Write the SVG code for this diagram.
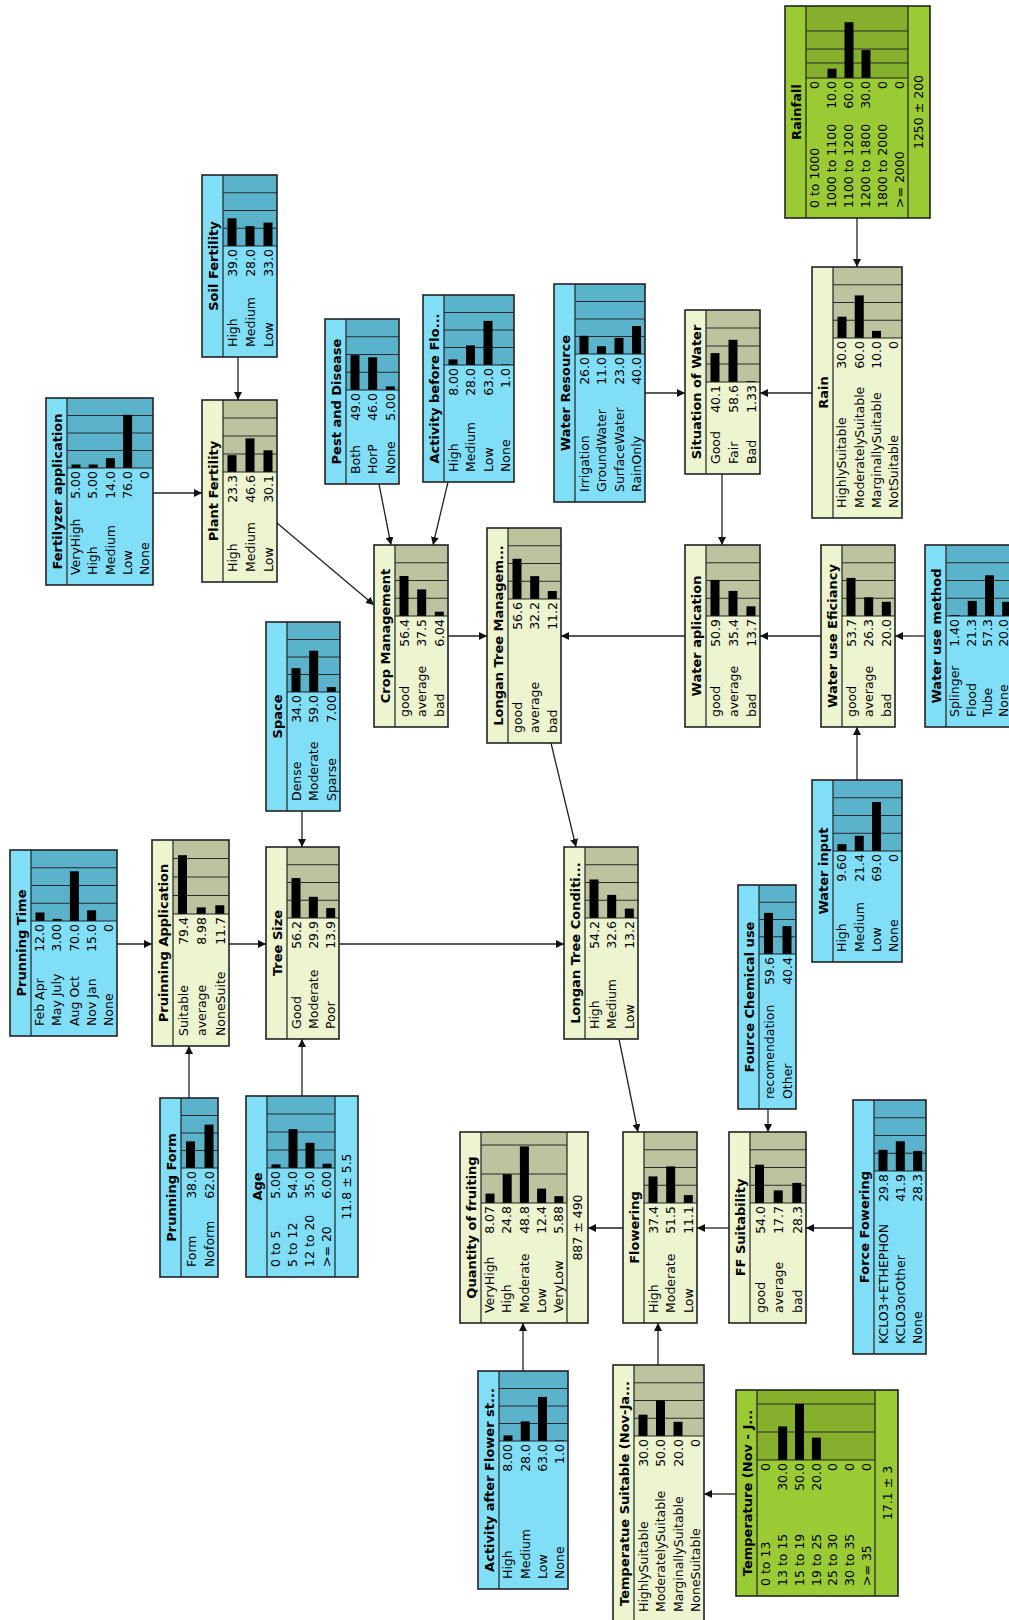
<svg xmlns="http://www.w3.org/2000/svg" width="1009" height="1620" viewBox="0 0 1009 1620">
<defs>
<style>
.bg-b{fill:#80def6}.bb-b{fill:#5ab3cb}
.bg-p{fill:#ecf4d0}.bb-p{fill:#bdc29f}
.bg-g{fill:#9acb34}.bb-g{fill:#86b02c}
.fr{fill:none;stroke:#222;stroke-width:1.6}
.sep{fill:none;stroke:#222;stroke-width:1.2}
.gl{fill:none;stroke:#2a2a2a;stroke-width:1}
.bar{fill:#000}
text{font-family:"DejaVu Sans",Verdana,sans-serif;fill:#000}
.t{font-size:13px;font-weight:bold;text-anchor:middle}
.s{font-size:12.5px}
.v{font-size:12.5px;text-anchor:end}
.m{font-size:12.5px;text-anchor:middle}
.cn{fill:none;stroke:#222;stroke-width:1.3;marker-end:url(#ah)}
</style>
<marker id="ah" viewBox="0 0 8 8" refX="8" refY="4" markerWidth="8" markerHeight="8" markerUnits="userSpaceOnUse" orient="auto"><path d="M0 0L8 4L0 8z" fill="#111"/></marker>
</defs>
<rect width="1009" height="1620" fill="#fff"/>

<g id="connectors">
<path class="cn" d="M857 218V267"/>
<path class="cn" d="M812 393H760"/>
<path class="cn" d="M645 393H685"/>
<path class="cn" d="M722 474V545"/>
<path class="cn" d="M821 636H760"/>
<path class="cn" d="M925 636H895"/>
<path class="cn" d="M857 780V727"/>
<path class="cn" d="M685 636H561"/>
<path class="cn" d="M448 636H487"/>
<path class="cn" d="M379 484L391 545"/>
<path class="cn" d="M448 482L433 545"/>
<path class="cn" d="M277 523L374 605"/>
<path class="cn" d="M153 493H202"/>
<path class="cn" d="M238 357V400"/>
<path class="cn" d="M302 811V847"/>
<path class="cn" d="M551 743L576 847"/>
<path class="cn" d="M339 944H564"/>
<path class="cn" d="M117 944H152"/>
<path class="cn" d="M229 944H266"/>
<path class="cn" d="M189 1098V1046"/>
<path class="cn" d="M302 1096V1039"/>
<path class="cn" d="M619 1039L638 1132"/>
<path class="cn" d="M623 1228H588"/>
<path class="cn" d="M729 1228H697"/>
<path class="cn" d="M853 1228H806"/>
<path class="cn" d="M768 1109V1132"/>
<path class="cn" d="M523 1371V1323"/>
<path class="cn" d="M658 1365V1323"/>
<path class="cn" d="M736 1494H704"/>
</g>

<g id="rainfall" transform="translate(785,218) rotate(-90)">
<rect class="bg-g" width="212" height="145"/>
<rect class="bb-g" x="140" y="21" width="72" height="102"/>
<path class="gl" d="M155 21V123M169 21V123M187 21V123"/>
<rect class="bar" x="140" y="42.5" width="9.3" height="9"/><rect class="bar" x="140" y="59.5" width="55.8" height="9"/><rect class="bar" x="140" y="76.5" width="27.9" height="9"/>
<rect class="fr" width="212" height="145"/>
<path class="sep" d="M0 21H212M140 21V123M0 123H212"/>
<text class="t" x="106" y="16">Rainfall</text>
<text class="s" x="10" y="34">0 to 1000</text><text class="v" x="137" y="34">0</text>
<text class="s" x="10" y="51">1000 to 1100</text><text class="v" x="137" y="51">10.0</text>
<text class="s" x="10" y="68">1100 to 1200</text><text class="v" x="137" y="68">60.0</text>
<text class="s" x="10" y="85">1200 to 1800</text><text class="v" x="137" y="85">30.0</text>
<text class="s" x="10" y="102">1800 to 2000</text><text class="v" x="137" y="102">0</text>
<text class="s" x="10" y="119">&gt;= 2000</text><text class="v" x="137" y="119">0</text>
<text class="m" x="106" y="138">1250 ± 200</text>
</g>

<g id="rain" transform="translate(812,518) rotate(-90)">
<rect class="bg-p" width="251" height="90"/>
<rect class="bb-p" x="180" y="21" width="71" height="69"/>
<path class="gl" d="M197.75 21V90M215.5 21V90M233.25 21V90"/>
<rect class="bar" x="180" y="25.5" width="21.3" height="9"/><rect class="bar" x="180" y="42.75" width="42.6" height="9"/><rect class="bar" x="180" y="60" width="7.1" height="9"/>
<rect class="fr" width="251" height="90"/>
<path class="sep" d="M0 21H251M180 21V90"/>
<text class="t" x="125.5" y="16">Rain</text>
<text class="s" x="10" y="34.25">HighlySuitable</text><text class="v" x="177" y="34.25">30.0</text>
<text class="s" x="10" y="51.5">ModeratelySuitable</text><text class="v" x="177" y="51.5">60.0</text>
<text class="s" x="10" y="68.75">MarginallySuitable</text><text class="v" x="177" y="68.75">10.0</text>
<text class="s" x="10" y="86">NotSuitable</text><text class="v" x="177" y="86">0</text>
</g>

<g id="situation-of-water" transform="translate(685,474) rotate(-90)">
<rect class="bg-p" width="164" height="75"/>
<rect class="bb-p" x="92" y="21" width="72" height="54"/>
<path class="gl" d="M110 21V75M128 21V75M146 21V75"/>
<rect class="bar" x="92" y="25.5" width="28.9" height="9"/><rect class="bar" x="92" y="43.5" width="42.2" height="9"/><rect class="bar" x="92" y="61.5" width="1" height="9"/>
<rect class="fr" width="164" height="75"/>
<path class="sep" d="M0 21H164M92 21V75"/>
<text class="t" x="82" y="16">Situation of Water</text>
<text class="s" x="10" y="35">Good</text><text class="v" x="89" y="35">40.1</text>
<text class="s" x="10" y="53">Fair</text><text class="v" x="89" y="53">58.6</text>
<text class="s" x="10" y="71">Bad</text><text class="v" x="89" y="71">1.33</text>
</g>

<g id="water-resource" transform="translate(554,502) rotate(-90)">
<rect class="bg-b" width="218" height="91"/>
<rect class="bb-b" x="148" y="21" width="70" height="70"/>
<path class="gl" d="M165.5 21V91M183 21V91M200.5 21V91"/>
<rect class="bar" x="148" y="25.5" width="18.2" height="9"/><rect class="bar" x="148" y="43" width="7.7" height="9"/><rect class="bar" x="148" y="60.5" width="16.1" height="9"/><rect class="bar" x="148" y="78" width="28" height="9"/>
<rect class="fr" width="218" height="91"/>
<path class="sep" d="M0 21H218M148 21V91"/>
<text class="t" x="109" y="16">Water Resource</text>
<text class="s" x="10" y="34.5">Irrigation</text><text class="v" x="145" y="34.5">26.0</text>
<text class="s" x="10" y="52">GroundWater</text><text class="v" x="145" y="52">11.0</text>
<text class="s" x="10" y="69.5">SurfaceWater</text><text class="v" x="145" y="69.5">23.0</text>
<text class="s" x="10" y="87">RainOnly</text><text class="v" x="145" y="87">40.0</text>
</g>

<g id="activity-before" transform="translate(423,482) rotate(-90)">
<rect class="bg-b" width="187" height="91"/>
<rect class="bb-b" x="117" y="21" width="70" height="70"/>
<path class="gl" d="M134.5 21V91M152 21V91M169.5 21V91"/>
<rect class="bar" x="117" y="25.5" width="5.6" height="9"/><rect class="bar" x="117" y="43" width="19.6" height="9"/><rect class="bar" x="117" y="60.5" width="44.1" height="9"/><rect class="bar" x="117" y="78" width="0.7" height="9"/>
<rect class="fr" width="187" height="91"/>
<path class="sep" d="M0 21H187M117 21V91"/>
<text class="t" x="93.5" y="16">Activity before Flo...</text>
<text class="s" x="10" y="34.5">High</text><text class="v" x="114" y="34.5">8.00</text>
<text class="s" x="10" y="52">Medium</text><text class="v" x="114" y="52">28.0</text>
<text class="s" x="10" y="69.5">Low</text><text class="v" x="114" y="69.5">63.0</text>
<text class="s" x="10" y="87">None</text><text class="v" x="114" y="87">1.0</text>
</g>

<g id="pest-and-disease" transform="translate(325,484) rotate(-90)">
<rect class="bg-b" width="165" height="74"/>
<rect class="bb-b" x="94" y="21" width="71" height="53"/>
<path class="gl" d="M111.75 21V74M129.5 21V74M147.25 21V74"/>
<rect class="bar" x="94" y="25.5" width="34.8" height="9"/><rect class="bar" x="94" y="43.2" width="32.7" height="9"/><rect class="bar" x="94" y="60.8" width="3.6" height="9"/>
<rect class="fr" width="165" height="74"/>
<path class="sep" d="M0 21H165M94 21V74"/>
<text class="t" x="82.5" y="16">Pest and Disease</text>
<text class="s" x="10" y="34.7">Both</text><text class="v" x="91" y="34.7">49.0</text>
<text class="s" x="10" y="52.4">HorP</text><text class="v" x="91" y="52.4">46.0</text>
<text class="s" x="10" y="70">None</text><text class="v" x="91" y="70">5.00</text>
</g>

<g id="soil-fertility" transform="translate(202,357) rotate(-90)">
<rect class="bg-b" width="182" height="75"/>
<rect class="bb-b" x="111" y="21" width="71" height="54"/>
<path class="gl" d="M128.75 21V75M146.5 21V75M164.25 21V75"/>
<rect class="bar" x="111" y="25.5" width="27.7" height="9"/><rect class="bar" x="111" y="43.5" width="19.9" height="9"/><rect class="bar" x="111" y="61.5" width="23.4" height="9"/>
<rect class="fr" width="182" height="75"/>
<path class="sep" d="M0 21H182M111 21V75"/>
<text class="t" x="91" y="16">Soil Fertility</text>
<text class="s" x="10" y="35">High</text><text class="v" x="108" y="35">39.0</text>
<text class="s" x="10" y="53">Medium</text><text class="v" x="108" y="53">28.0</text>
<text class="s" x="10" y="71">Low</text><text class="v" x="108" y="71">33.0</text>
</g>

<g id="fertilyzer-application" transform="translate(46,585) rotate(-90)">
<rect class="bg-b" width="187" height="107"/>
<rect class="bb-b" x="117" y="21" width="70" height="86"/>
<path class="gl" d="M134.5 21V107M152 21V107M169.5 21V107"/>
<rect class="bar" x="117" y="25.5" width="3.5" height="9"/><rect class="bar" x="117" y="42.7" width="3.5" height="9"/><rect class="bar" x="117" y="59.9" width="9.8" height="9"/><rect class="bar" x="117" y="77.1" width="53.2" height="9"/>
<rect class="fr" width="187" height="107"/>
<path class="sep" d="M0 21H187M117 21V107"/>
<text class="t" x="93.5" y="16">Fertilyzer application</text>
<text class="s" x="10" y="34.2">VeryHigh</text><text class="v" x="114" y="34.2">5.00</text>
<text class="s" x="10" y="51.4">High</text><text class="v" x="114" y="51.4">5.00</text>
<text class="s" x="10" y="68.6">Medium</text><text class="v" x="114" y="68.6">14.0</text>
<text class="s" x="10" y="85.8">Low</text><text class="v" x="114" y="85.8">76.0</text>
<text class="s" x="10" y="103">None</text><text class="v" x="114" y="103">0</text>
</g>

<g id="plant-fertility" transform="translate(202,582) rotate(-90)">
<rect class="bg-p" width="182" height="75"/>
<rect class="bb-p" x="110" y="21" width="72" height="54"/>
<path class="gl" d="M128 21V75M146 21V75M164 21V75"/>
<rect class="bar" x="110" y="25.5" width="16.8" height="9"/><rect class="bar" x="110" y="43.5" width="33.6" height="9"/><rect class="bar" x="110" y="61.5" width="21.7" height="9"/>
<rect class="fr" width="182" height="75"/>
<path class="sep" d="M0 21H182M110 21V75"/>
<text class="t" x="91" y="16">Plant Fertility</text>
<text class="s" x="10" y="35">High</text><text class="v" x="107" y="35">23.3</text>
<text class="s" x="10" y="53">Medium</text><text class="v" x="107" y="53">46.6</text>
<text class="s" x="10" y="71">Low</text><text class="v" x="107" y="71">30.1</text>
</g>

<g id="space" transform="translate(266,811) rotate(-90)">
<rect class="bg-b" width="189" height="74"/>
<rect class="bb-b" x="119" y="21" width="70" height="53"/>
<path class="gl" d="M136.5 21V74M154 21V74M171.5 21V74"/>
<rect class="bar" x="119" y="25.5" width="23.8" height="9"/><rect class="bar" x="119" y="43.2" width="41.3" height="9"/><rect class="bar" x="119" y="60.8" width="4.9" height="9"/>
<rect class="fr" width="189" height="74"/>
<path class="sep" d="M0 21H189M119 21V74"/>
<text class="t" x="94.5" y="16">Space</text>
<text class="s" x="10" y="34.7">Dense</text><text class="v" x="116" y="34.7">34.0</text>
<text class="s" x="10" y="52.4">Moderate</text><text class="v" x="116" y="52.4">59.0</text>
<text class="s" x="10" y="70">Sparse</text><text class="v" x="116" y="70">7.00</text>
</g>

<g id="crop-management" transform="translate(374,727) rotate(-90)">
<rect class="bg-p" width="182" height="74"/>
<rect class="bb-p" x="111" y="21" width="71" height="53"/>
<path class="gl" d="M128.75 21V74M146.5 21V74M164.25 21V74"/>
<rect class="bar" x="111" y="25.5" width="40" height="9"/><rect class="bar" x="111" y="43.2" width="26.6" height="9"/><rect class="bar" x="111" y="60.8" width="4.3" height="9"/>
<rect class="fr" width="182" height="74"/>
<path class="sep" d="M0 21H182M111 21V74"/>
<text class="t" x="91" y="16">Crop Management</text>
<text class="s" x="10" y="34.7">good</text><text class="v" x="108" y="34.7">56.4</text>
<text class="s" x="10" y="52.4">average</text><text class="v" x="108" y="52.4">37.5</text>
<text class="s" x="10" y="70">bad</text><text class="v" x="108" y="70">6.04</text>
</g>

<g id="longan-tree-management" transform="translate(487,743) rotate(-90)">
<rect class="bg-p" width="215" height="74"/>
<rect class="bb-p" x="144" y="21" width="71" height="53"/>
<path class="gl" d="M161.75 21V74M179.5 21V74M197.25 21V74"/>
<rect class="bar" x="144" y="25.5" width="40.2" height="9"/><rect class="bar" x="144" y="43.2" width="22.9" height="9"/><rect class="bar" x="144" y="60.8" width="8" height="9"/>
<rect class="fr" width="215" height="74"/>
<path class="sep" d="M0 21H215M144 21V74"/>
<text class="t" x="107.5" y="16">Longan Tree Managem...</text>
<text class="s" x="10" y="34.7">good</text><text class="v" x="141" y="34.7">56.6</text>
<text class="s" x="10" y="52.4">average</text><text class="v" x="141" y="52.4">32.2</text>
<text class="s" x="10" y="70">bad</text><text class="v" x="141" y="70">11.2</text>
</g>

<g id="water-aplication" transform="translate(685,727) rotate(-90)">
<rect class="bg-p" width="182" height="75"/>
<rect class="bb-p" x="111" y="21" width="71" height="54"/>
<path class="gl" d="M128.75 21V75M146.5 21V75M164.25 21V75"/>
<rect class="bar" x="111" y="25.5" width="36.1" height="9"/><rect class="bar" x="111" y="43.5" width="25.1" height="9"/><rect class="bar" x="111" y="61.5" width="9.7" height="9"/>
<rect class="fr" width="182" height="75"/>
<path class="sep" d="M0 21H182M111 21V75"/>
<text class="t" x="91" y="16">Water aplication</text>
<text class="s" x="10" y="35">good</text><text class="v" x="108" y="35">50.9</text>
<text class="s" x="10" y="53">average</text><text class="v" x="108" y="53">35.4</text>
<text class="s" x="10" y="71">bad</text><text class="v" x="108" y="71">13.7</text>
</g>

<g id="water-use-eficiancy" transform="translate(821,727) rotate(-90)">
<rect class="bg-p" width="182" height="74"/>
<rect class="bb-p" x="111" y="21" width="71" height="53"/>
<path class="gl" d="M128.75 21V74M146.5 21V74M164.25 21V74"/>
<rect class="bar" x="111" y="25.5" width="38.1" height="9"/><rect class="bar" x="111" y="43.2" width="18.7" height="9"/><rect class="bar" x="111" y="60.8" width="14.2" height="9"/>
<rect class="fr" width="182" height="74"/>
<path class="sep" d="M0 21H182M111 21V74"/>
<text class="t" x="91" y="16">Water use Eficiancy</text>
<text class="s" x="10" y="34.7">good</text><text class="v" x="108" y="34.7">53.7</text>
<text class="s" x="10" y="52.4">average</text><text class="v" x="108" y="52.4">26.3</text>
<text class="s" x="10" y="70">bad</text><text class="v" x="108" y="70">20.0</text>
</g>

<g id="water-use-method" transform="translate(925,727) rotate(-90)">
<rect class="bg-b" width="182" height="90"/>
<rect class="bb-b" x="111" y="21" width="71" height="69"/>
<path class="gl" d="M128.75 21V90M146.5 21V90M164.25 21V90"/>
<rect class="bar" x="111" y="25.5" width="1" height="9"/><rect class="bar" x="111" y="42.75" width="15.1" height="9"/><rect class="bar" x="111" y="60" width="40.7" height="9"/><rect class="bar" x="111" y="77.25" width="14.2" height="9"/>
<rect class="fr" width="182" height="90"/>
<path class="sep" d="M0 21H182M111 21V90"/>
<text class="t" x="91" y="16">Water use method</text>
<text class="s" x="10" y="34.25">Splinger</text><text class="v" x="108" y="34.25">1.40</text>
<text class="s" x="10" y="51">Flood</text><text class="v" x="108" y="51">21.3</text>
<text class="s" x="10" y="67.25">Tube</text><text class="v" x="108" y="67.25">57.3</text>
<text class="s" x="10" y="82.5">None</text><text class="v" x="108" y="82.5">20.0</text>
</g>

<g id="water-input" transform="translate(812,962) rotate(-90)">
<rect class="bg-b" width="182" height="90"/>
<rect class="bb-b" x="111" y="21" width="71" height="69"/>
<path class="gl" d="M128.75 21V90M146.5 21V90M164.25 21V90"/>
<rect class="bar" x="111" y="25.5" width="6.8" height="9"/><rect class="bar" x="111" y="42.75" width="15.2" height="9"/><rect class="bar" x="111" y="60" width="49" height="9"/>
<rect class="fr" width="182" height="90"/>
<path class="sep" d="M0 21H182M111 21V90"/>
<text class="t" x="91" y="16">Water input</text>
<text class="s" x="10" y="34.25">High</text><text class="v" x="108" y="34.25">9.60</text>
<text class="s" x="10" y="51.5">Medium</text><text class="v" x="108" y="51.5">21.4</text>
<text class="s" x="10" y="68.75">Low</text><text class="v" x="108" y="68.75">69.0</text>
<text class="s" x="10" y="86">None</text><text class="v" x="108" y="86">0</text>
</g>

<g id="fource-chemical-use" transform="translate(738,1109) rotate(-90)">
<rect class="bg-b" width="224" height="58"/>
<rect class="bb-b" x="155" y="21" width="69" height="37"/>
<path class="gl" d="M172.25 21V58M189.5 21V58M206.75 21V58"/>
<rect class="bar" x="155" y="26" width="41.1" height="9"/><rect class="bar" x="155" y="44.5" width="27.9" height="9"/>
<rect class="fr" width="224" height="58"/>
<path class="sep" d="M0 21H224M155 21V58"/>
<text class="t" x="112" y="16">Fource Chemical use</text>
<text class="s" x="10" y="35.5">recomendation</text><text class="v" x="152" y="35.5">59.6</text>
<text class="s" x="10" y="54">Other</text><text class="v" x="152" y="54">40.4</text>
</g>

<g id="prunning-time" transform="translate(10,1036) rotate(-90)">
<rect class="bg-b" width="186" height="107"/>
<rect class="bb-b" x="115" y="21" width="71" height="86"/>
<path class="gl" d="M132.75 21V107M150.5 21V107M168.25 21V107"/>
<rect class="bar" x="115" y="25.5" width="8.5" height="9"/><rect class="bar" x="115" y="42.7" width="2.1" height="9"/><rect class="bar" x="115" y="59.9" width="49.7" height="9"/><rect class="bar" x="115" y="77.1" width="10.7" height="9"/>
<rect class="fr" width="186" height="107"/>
<path class="sep" d="M0 21H186M115 21V107"/>
<text class="t" x="93" y="16">Prunning Time</text>
<text class="s" x="10" y="34.2">Feb Apr</text><text class="v" x="112" y="34.2">12.0</text>
<text class="s" x="10" y="51.4">May July</text><text class="v" x="112" y="51.4">3.00</text>
<text class="s" x="10" y="68.6">Aug Oct</text><text class="v" x="112" y="68.6">70.0</text>
<text class="s" x="10" y="85.8">Nov Jan</text><text class="v" x="112" y="85.8">15.0</text>
<text class="s" x="10" y="103">None</text><text class="v" x="112" y="103">0</text>
</g>

<g id="pruinning-application" transform="translate(152,1046) rotate(-90)">
<rect class="bg-p" width="206" height="77"/>
<rect class="bb-p" x="132" y="21" width="74" height="56"/>
<path class="gl" d="M150.5 21V77M169 21V77M187.5 21V77"/>
<rect class="bar" x="132" y="26" width="58.8" height="9"/><rect class="bar" x="132" y="44.7" width="6.6" height="9"/><rect class="bar" x="132" y="63.3" width="8.7" height="9"/>
<rect class="fr" width="206" height="77"/>
<path class="sep" d="M0 21H206M132 21V77"/>
<text class="t" x="103" y="16">Pruinning Application</text>
<text class="s" x="10" y="35.5">Suitable</text><text class="v" x="129" y="35.5">79.4</text>
<text class="s" x="10" y="54.2">average</text><text class="v" x="129" y="54.2">8.98</text>
<text class="s" x="10" y="72.8">NoneSuite</text><text class="v" x="129" y="72.8">11.7</text>
</g>

<g id="tree-size" transform="translate(266,1039) rotate(-90)">
<rect class="bg-p" width="192" height="73"/>
<rect class="bb-p" x="121" y="21" width="71" height="52"/>
<path class="gl" d="M138.75 21V73M156.5 21V73M174.25 21V73"/>
<rect class="bar" x="121" y="25.5" width="39.9" height="9"/><rect class="bar" x="121" y="42.8" width="21.2" height="9"/><rect class="bar" x="121" y="60.2" width="9.9" height="9"/>
<rect class="fr" width="192" height="73"/>
<path class="sep" d="M0 21H192M121 21V73"/>
<text class="t" x="96" y="16">Tree Size</text>
<text class="s" x="10" y="34.5">Good</text><text class="v" x="118" y="34.5">56.2</text>
<text class="s" x="10" y="51.8">Moderate</text><text class="v" x="118" y="51.8">29.9</text>
<text class="s" x="10" y="69.2">Poor</text><text class="v" x="118" y="69.2">13.9</text>
</g>

<g id="prunning-form" transform="translate(160,1277) rotate(-90)">
<rect class="bg-b" width="179" height="58"/>
<rect class="bb-b" x="109" y="21" width="70" height="37"/>
<path class="gl" d="M126.5 21V58M144 21V58M161.5 21V58"/>
<rect class="bar" x="109" y="26" width="26.6" height="9"/><rect class="bar" x="109" y="44.5" width="43.4" height="9"/>
<rect class="fr" width="179" height="58"/>
<path class="sep" d="M0 21H179M109 21V58"/>
<text class="t" x="89.5" y="16">Prunning Form</text>
<text class="s" x="10" y="35.5">Form</text><text class="v" x="106" y="35.5">38.0</text>
<text class="s" x="10" y="54">Noform</text><text class="v" x="106" y="54">62.0</text>
</g>

<g id="age" transform="translate(246,1277) rotate(-90)">
<rect class="bg-b" width="181" height="112"/>
<rect class="bb-b" x="109" y="21" width="72" height="68"/>
<path class="gl" d="M127 21V89M145 21V89M163 21V89"/>
<rect class="bar" x="109" y="25.5" width="3.6" height="9"/><rect class="bar" x="109" y="42.5" width="38.9" height="9"/><rect class="bar" x="109" y="59.5" width="25.2" height="9"/><rect class="bar" x="109" y="76.5" width="4.3" height="9"/>
<rect class="fr" width="181" height="112"/>
<path class="sep" d="M0 21H181M109 21V89M0 89H181"/>
<text class="t" x="90.5" y="16">Age</text>
<text class="s" x="10" y="34">0 to 5</text><text class="v" x="106" y="34">5.00</text>
<text class="s" x="10" y="51">5 to 12</text><text class="v" x="106" y="51">54.0</text>
<text class="s" x="10" y="68">12 to 20</text><text class="v" x="106" y="68">35.0</text>
<text class="s" x="10" y="85">&gt;= 20</text><text class="v" x="106" y="85">6.00</text>
<text class="m" x="90.5" y="105">11.8 ± 5.5</text>
</g>

<g id="longan-tree-condition" transform="translate(564,1039) rotate(-90)">
<rect class="bg-p" width="192" height="74"/>
<rect class="bb-p" x="121" y="21" width="71" height="53"/>
<path class="gl" d="M138.75 21V74M156.5 21V74M174.25 21V74"/>
<rect class="bar" x="121" y="25.5" width="38.5" height="9"/><rect class="bar" x="121" y="43.2" width="23.1" height="9"/><rect class="bar" x="121" y="60.8" width="9.4" height="9"/>
<rect class="fr" width="192" height="74"/>
<path class="sep" d="M0 21H192M121 21V74"/>
<text class="t" x="96" y="16">Longan Tree Conditi...</text>
<text class="s" x="10" y="34.7">High</text><text class="v" x="118" y="34.7">54.2</text>
<text class="s" x="10" y="52.4">Medium</text><text class="v" x="118" y="52.4">32.6</text>
<text class="s" x="10" y="70">Low</text><text class="v" x="118" y="70">13.2</text>
</g>

<g id="quantity-of-fruiting" transform="translate(460,1323) rotate(-90)">
<rect class="bg-p" width="191" height="128"/>
<rect class="bb-p" x="120" y="21" width="71" height="86"/>
<path class="gl" d="M149 21V107M178 21V107"/>
<rect class="bar" x="120" y="25.5" width="9.4" height="9"/><rect class="bar" x="120" y="42.7" width="28.8" height="9"/><rect class="bar" x="120" y="59.9" width="56.6" height="9"/><rect class="bar" x="120" y="77.1" width="14.4" height="9"/><rect class="bar" x="120" y="94.3" width="6.8" height="9"/>
<rect class="fr" width="191" height="128"/>
<path class="sep" d="M0 21H191M120 21V107M0 107H191"/>
<text class="t" x="95.5" y="16">Quantity of fruiting</text>
<text class="s" x="10" y="34.2">VeryHigh</text><text class="v" x="117" y="34.2">8.07</text>
<text class="s" x="10" y="51.4">High</text><text class="v" x="117" y="51.4">24.8</text>
<text class="s" x="10" y="68.6">Moderate</text><text class="v" x="117" y="68.6">48.8</text>
<text class="s" x="10" y="85.8">Low</text><text class="v" x="117" y="85.8">12.4</text>
<text class="s" x="10" y="103">VeryLow</text><text class="v" x="117" y="103">5.88</text>
<text class="m" x="95.5" y="122">887 ± 490</text>
</g>

<g id="flowering" transform="translate(623,1323) rotate(-90)">
<rect class="bg-p" width="191" height="74"/>
<rect class="bb-p" x="120" y="21" width="71" height="53"/>
<path class="gl" d="M137.75 21V74M155.5 21V74M173.25 21V74"/>
<rect class="bar" x="120" y="25.5" width="26.6" height="9"/><rect class="bar" x="120" y="43.2" width="36.6" height="9"/><rect class="bar" x="120" y="60.8" width="7.9" height="9"/>
<rect class="fr" width="191" height="74"/>
<path class="sep" d="M0 21H191M120 21V74"/>
<text class="t" x="95.5" y="16">Flowering</text>
<text class="s" x="10" y="34.7">High</text><text class="v" x="117" y="34.7">37.4</text>
<text class="s" x="10" y="52.4">Moderate</text><text class="v" x="117" y="52.4">51.5</text>
<text class="s" x="10" y="70">Low</text><text class="v" x="117" y="70">11.1</text>
</g>

<g id="ff-suitability" transform="translate(729,1323) rotate(-90)">
<rect class="bg-p" width="191" height="77"/>
<rect class="bb-p" x="120" y="21" width="71" height="56"/>
<path class="gl" d="M137.75 21V77M155.5 21V77M173.25 21V77"/>
<rect class="bar" x="120" y="26" width="38.3" height="9"/><rect class="bar" x="120" y="44.7" width="12.6" height="9"/><rect class="bar" x="120" y="63.3" width="20.1" height="9"/>
<rect class="fr" width="191" height="77"/>
<path class="sep" d="M0 21H191M120 21V77"/>
<text class="t" x="95.5" y="16">FF Suitability</text>
<text class="s" x="10" y="35.5">good</text><text class="v" x="117" y="35.5">54.0</text>
<text class="s" x="10" y="54.2">average</text><text class="v" x="117" y="54.2">17.7</text>
<text class="s" x="10" y="72.8">bad</text><text class="v" x="117" y="72.8">28.3</text>
</g>

<g id="force-fowering" transform="translate(853,1354) rotate(-90)">
<rect class="bg-b" width="254" height="73"/>
<rect class="bb-b" x="183" y="21" width="71" height="52"/>
<path class="gl" d="M200.75 21V73M218.5 21V73M236.25 21V73"/>
<rect class="bar" x="183" y="25.5" width="21.2" height="9"/><rect class="bar" x="183" y="42.8" width="29.7" height="9"/><rect class="bar" x="183" y="60.2" width="20.1" height="9"/>
<rect class="fr" width="254" height="73"/>
<path class="sep" d="M0 21H254M183 21V73"/>
<text class="t" x="127" y="16">Force Fowering</text>
<text class="s" x="10" y="34.5">KCLO3+ETHEPHON</text><text class="v" x="180" y="34.5">29.8</text>
<text class="s" x="10" y="51.8">KCLO3orOther</text><text class="v" x="180" y="51.8">41.9</text>
<text class="s" x="10" y="69.2">None</text><text class="v" x="180" y="69.2">28.3</text>
</g>

<g id="activity-after" transform="translate(478,1589) rotate(-90)">
<rect class="bg-b" width="218" height="90"/>
<rect class="bb-b" x="148" y="21" width="70" height="69"/>
<path class="gl" d="M165.5 21V90M183 21V90M200.5 21V90"/>
<rect class="bar" x="148" y="25.5" width="5.6" height="9"/><rect class="bar" x="148" y="42.75" width="19.6" height="9"/><rect class="bar" x="148" y="60" width="44.1" height="9"/><rect class="bar" x="148" y="77.25" width="0.7" height="9"/>
<rect class="fr" width="218" height="90"/>
<path class="sep" d="M0 21H218M148 21V90"/>
<text class="t" x="109" y="16">Activity after Flower st...</text>
<text class="s" x="10" y="34.25">High</text><text class="v" x="145" y="34.25">8.00</text>
<text class="s" x="10" y="51.5">Medium</text><text class="v" x="145" y="51.5">28.0</text>
<text class="s" x="10" y="68.75">Low</text><text class="v" x="145" y="68.75">63.0</text>
<text class="s" x="10" y="86">None</text><text class="v" x="145" y="86">1.0</text>
</g>

<g id="temperature-suitable" transform="translate(613,1622) rotate(-90)">
<rect class="bg-p" width="257" height="91"/>
<rect class="bb-p" x="186" y="21" width="71" height="70"/>
<path class="gl" d="M203.75 21V91M221.5 21V91M239.25 21V91"/>
<rect class="bar" x="186" y="25.5" width="21.3" height="9"/><rect class="bar" x="186" y="43" width="35.5" height="9"/><rect class="bar" x="186" y="60.5" width="14.2" height="9"/>
<rect class="fr" width="257" height="91"/>
<path class="sep" d="M0 21H257M186 21V91"/>
<text class="t" x="128.5" y="16">Temperatue Suitable (Nov-Ja...</text>
<text class="s" x="10" y="34.5">HighlySuitable</text><text class="v" x="183" y="34.5">30.0</text>
<text class="s" x="10" y="52">ModeratelySuitable</text><text class="v" x="183" y="52">50.0</text>
<text class="s" x="10" y="69.5">MarginallySuitable</text><text class="v" x="183" y="69.5">20.0</text>
<text class="s" x="10" y="87">NoneSuitable</text><text class="v" x="183" y="87">0</text>
</g>

<g id="temperature" transform="translate(736,1596) rotate(-90)">
<rect class="bg-g" width="206" height="162"/>
<rect class="bb-g" x="136" y="21" width="70" height="118"/>
<path class="gl" d="M164 21V139M192 21V139"/>
<rect class="bar" x="136" y="42.2" width="33.6" height="9"/><rect class="bar" x="136" y="59" width="56" height="9"/><rect class="bar" x="136" y="75.9" width="22.4" height="9"/>
<rect class="fr" width="206" height="162"/>
<path class="sep" d="M0 21H206M136 21V139M0 139H206"/>
<text class="t" x="103" y="16">Temperature (Nov - J...</text>
<text class="s" x="10" y="33.9">0 to 13</text><text class="v" x="133" y="33.9">0</text>
<text class="s" x="10" y="50.8">13 to 15</text><text class="v" x="133" y="50.8">30.0</text>
<text class="s" x="10" y="67.6">15 to 19</text><text class="v" x="133" y="67.6">50.0</text>
<text class="s" x="10" y="84.5">19 to 25</text><text class="v" x="133" y="84.5">20.0</text>
<text class="s" x="10" y="101.3">25 to 30</text><text class="v" x="133" y="101.3">0</text>
<text class="s" x="10" y="118.2">30 to 35</text><text class="v" x="133" y="118.2">0</text>
<text class="s" x="10" y="135">&gt;= 35</text><text class="v" x="133" y="135">0</text>
<text class="m" x="103" y="156">17.1 ± 3</text>
</g>
</svg>
